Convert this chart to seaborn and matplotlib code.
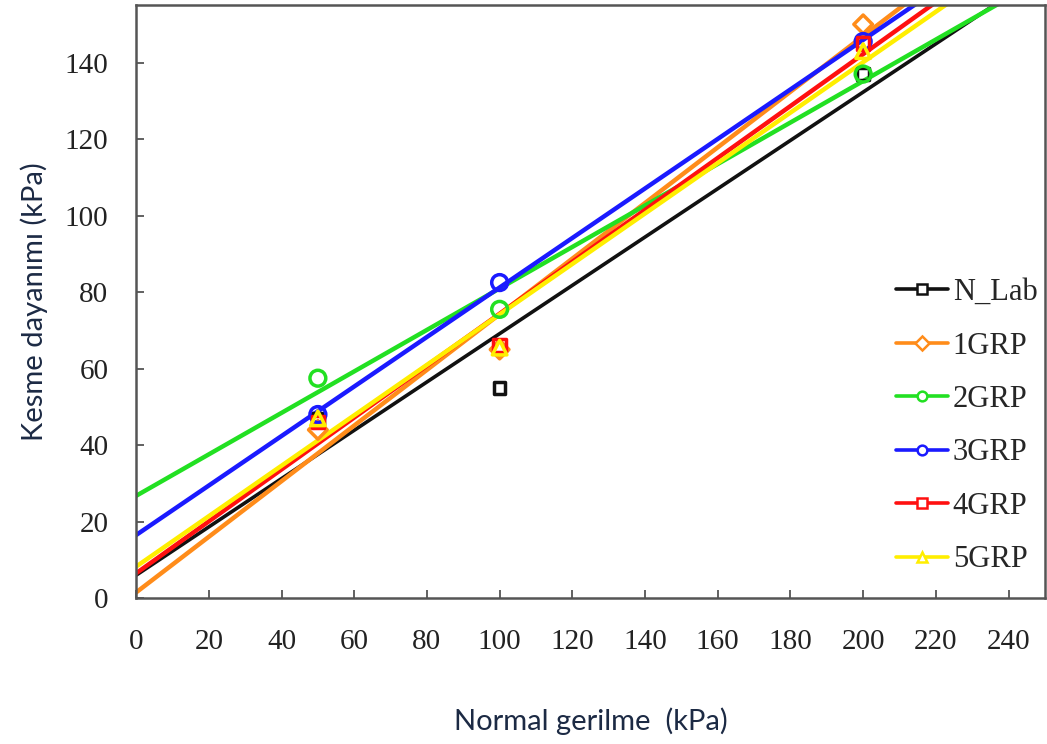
import numpy as np
import matplotlib
matplotlib.use('Agg')
import matplotlib.pyplot as plt
from matplotlib.lines import Line2D
import seaborn as sns

# normal stress levels (kPa)
normal_stress = [50, 100, 200]

# shear strength values (kPa)
series_names = ['N_Lab', '1GRP', '2GRP', '3GRP', '4GRP', '5GRP']
n_lab = [47, 55, 137]
grp1 = [44, 65, 150]
grp2 = [57.5, 75.5, 137]
grp3 = [48, 82.5, 145.5]
grp4 = [46, 66, 145]
grp5 = [47, 65.5, 143]

series_values = [n_lab, grp1, grp2, grp3, grp4, grp5]
colors = ['#111111', '#ff8c1a', '#22e022', '#1a1aff', '#ff1010', '#ffee00']
markers = ['s', 'D', 'o', 'o', 's', '^']
marker_sizes = [70, 90, 130, 130, 80, 110]

x_ticks = list(range(0, 241, 20))
y_ticks = list(range(0, 141, 20))

sns.set_style('ticks')
serif = ['Liberation Serif', 'DejaVu Serif']
sans = ['Lato', 'DejaVu Sans']

fig = plt.figure(figsize=(10.47, 7.44), dpi=100)
ax = fig.add_axes([0.130, 0.196, 0.868, 0.797])
ax.set_xlim(0, 250)
ax.set_ylim(0, 155)

for name, vals, col, mk, ms in zip(series_names, series_values, colors, markers, marker_sizes):
    sns.regplot(x=np.array(normal_stress), y=np.array(vals), ax=ax, ci=None,
                truncate=False, marker=mk,
                scatter_kws=dict(facecolors='none', edgecolors=col, s=ms,
                                 linewidths=2.5, alpha=1, zorder=3),
                line_kws=dict(color=col, lw=3.2 if name != 'N_Lab' else 2.6, zorder=2))

ax.set_xlim(0, 250)
ax.set_ylim(0, 155)
ax.set_xticks(x_ticks)
ax.set_yticks(y_ticks)
ax.tick_params(direction='in', length=6, width=1.3, colors='#555555',
               labelcolor='#222222', labelsize=21)
for lab in ax.get_xticklabels() + ax.get_yticklabels():
    lab.set_family(serif)
ax.tick_params(axis='x', pad=22)
ax.tick_params(axis='y', pad=20)
for sp in ax.spines.values():
    sp.set_visible(True)
    sp.set_color('#555555')
    sp.set_linewidth(1.8)

ax.set_xlabel('Normal gerilme  (kPa)', fontsize=21, family=sans, color='#1c2a44', labelpad=38)
ax.set_ylabel('Kesme dayanımı (kPa)', fontsize=21, family=sans, color='#1c2a44', labelpad=12)

handles = [Line2D([0], [0], color=c, lw=2.6, marker=m, markersize=7,
                  markerfacecolor='white', markeredgecolor=c, markeredgewidth=1.8)
           for c, m in zip(colors, markers)]
ax.legend(handles, series_names, loc='center right', bbox_to_anchor=(1.022, 0.29),
          frameon=False, prop={'family': serif, 'size': 22}, handlelength=1.7,
          handletextpad=0.15, labelspacing=0.8)

plt.savefig('out.png', dpi=100)
